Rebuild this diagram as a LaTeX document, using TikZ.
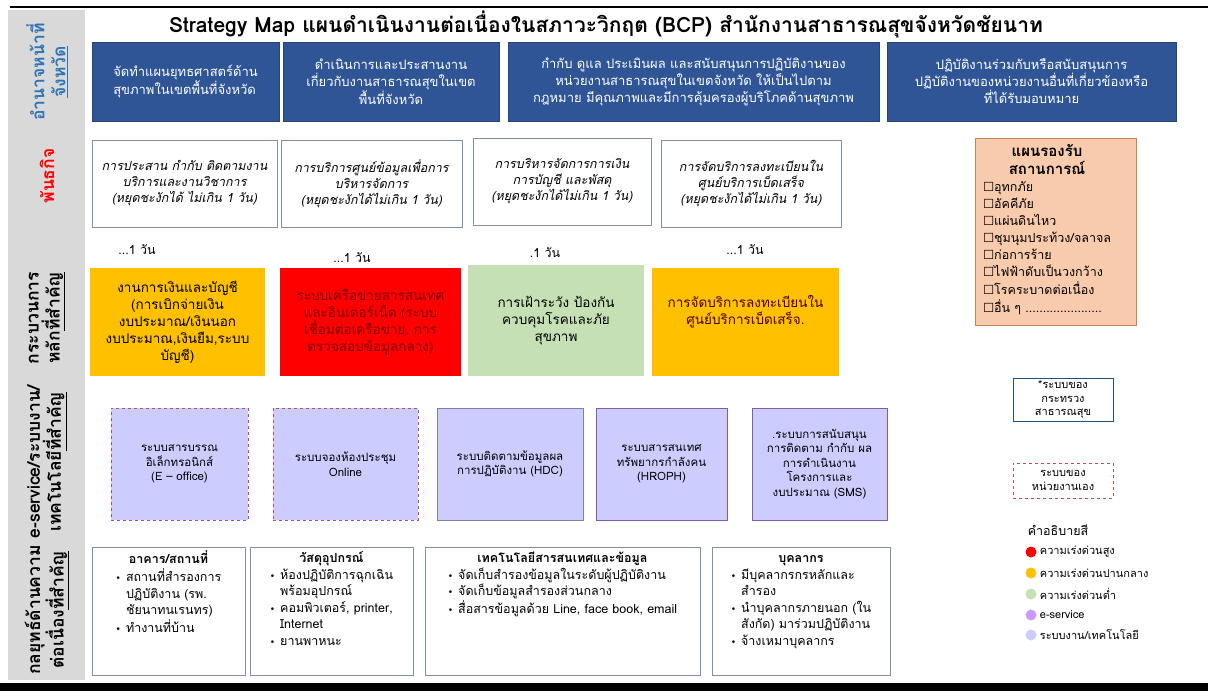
\documentclass[tikz,border=0pt]{standalone}
\usepackage{fontspec}
\setmainfont[Script=Thai]{Loma}
\newfontfamily\symf{DejaVu Sans}
\usetikzlibrary{positioning}
\definecolor{dutyblue}{HTML}{2F5597}
\definecolor{framegrey}{HTML}{7F8FA6}
\definecolor{bandgrey}{HTML}{D9D9D9}
\definecolor{lblblue}{HTML}{2E75B6}
\definecolor{urgred}{HTML}{FF0000}
\definecolor{urgorange}{HTML}{FFC000}
\definecolor{urggreen}{HTML}{C5E0B4}
\definecolor{eserv}{HTML}{CC99FF}
\definecolor{sysfill}{HTML}{CCCCFF}
\definecolor{ownred}{HTML}{C0504D}
\definecolor{sysedge}{HTML}{7F7FA8}
\definecolor{purpedge}{HTML}{7F5F9F}
\definecolor{planfill}{HTML}{F8CBAD}
\definecolor{planedge}{HTML}{C9855A}
\tikzset{
  sidelbl/.style={rotate=90,align=center,inner sep=0,font=\bfseries\fontsize{17.5}{21}\selectfont},
  duty/.style={fill=dutyblue,draw=dutyblue!80!black,text=white,align=center,font=\fontsize{13}{17}\selectfont},
  mission/.style={draw=framegrey,fill=white,align=center,font=\itshape\fontsize{12.5}{16}\selectfont},
  daytxt/.style={inner sep=0,font=\fontsize{12.5}{14}\selectfont},
  proc/.style={align=center,font=\fontsize{13.5}{17}\selectfont},
  sysbox/.style={fill=sysfill,align=center,font=\fontsize{11.5}{14.5}\selectfont},
  ownsys/.style={sysbox,draw=ownred,dashed},
  moph/.style={sysbox,draw=#1,semithick},
  stratbox/.style={draw=framegrey,fill=white},
  strattxt/.style={anchor=north,inner sep=0,font=\fontsize{12.5}{16.5}\selectfont},
  legtxt/.style={inner sep=1pt,font=\fontsize{11}{13}\selectfont}
}
% box from corners: style, name, x1, y1, x2, y2, text
\newcommand{\boxat}[7]{\node[#1,minimum width={#5-#3},minimum height={#6-#4}] (#2) at ({(#3+#5)/2},{(#4+#6)/2}) {#7};}
\newcommand{\bul}{{\symf\small •}}
\newcommand{\chk}{{\symf ☐}}
\begin{document}
\begin{tikzpicture}[x=1pt,y=-1pt]
\useasboundingbox (0,0) rectangle (1208,691);
% frame and side band
\draw[line width=1.2] (10,7) -- (1208,7);
\fill[bandgrey] (8,10) rectangle (85,680);
\fill (0,683) rectangle (1208,691);
\node[sidelbl,text=lblblue] (lDuty) at (47,72) {อำนาจหน้าที่\\\underline{จังหวัด}};
\node[sidelbl,text=urgred] (lMiss) at (47,176) {พันธกิจ};
\node[sidelbl] (lProc) at (47,318) {กระบวนการ\\หลัก\underline{ที่สำคัญ}};
\node[sidelbl] (lSys) at (47,462) {e-service/ระบบงาน/\\เทคโนโลยี\underline{ที่สำคัญ}};
\node[sidelbl] (lStrat) at (47,610) {กลยุทธ์ด้านความ\\ต่อเนื่อง\underline{ที่สำคัญ}};
\node[font=\bfseries\fontsize{21}{24}\selectfont] (title) at (606,24) {Strategy Map แผนดำเนินงานต่อเนื่องในสภาวะวิกฤต (BCP) สำนักงานสาธารณสุขจังหวัดชัยนาท};
% duties
\boxat{duty,align=left}{dA}{92}{42}{279}{121}{จัดทำแผนยุทธศาสตร์ด้าน\\สุขภาพในเขตพื้นที่จังหวัด}
\boxat{duty}{dB}{283}{42}{499}{121}{ดำเนินการและประสานงาน\\เกี่ยวกับงานสาธารณสุขในเขต\\พื้นที่จังหวัด}
\boxat{duty}{dC}{508}{42}{879}{121}{กำกับ ดูแล ประเมินผล และสนับสนุนการปฏิบัติงานของ\\หน่วยงานสาธารณสุขในเขตจังหวัด ให้เป็นไปตาม\\กฎหมาย มีคุณภาพและมีการคุ้มครองผู้บริโภคด้านสุขภาพ}
\boxat{duty}{dD}{887}{42}{1176}{121}{ปฏิบัติงานร่วมกับหรือสนับสนุนการ\\ปฏิบัติงานของหน่วยงานอื่นที่เกี่ยวข้องหรือ\\ที่ได้รับมอบหมาย}
% missions
\boxat{mission}{m1}{92}{140}{277}{227}{การประสาน กำกับ ติดตามงาน\\บริการและงานวิชาการ\\(หยุดชะงักได้ ไม่เกิน 1 วัน)}
\boxat{mission}{m2}{281}{140}{462}{227}{การบริการศูนย์ข้อมูลเพื่อการ\\บริหารจัดการ\\(หยุดชะงักได้ไม่เกิน 1 วัน)}
\boxat{mission}{m3}{473}{138}{651}{225}{การบริหารจัดการการเงิน\\การบัญชี และพัสดุ\\(หยุดชะงักได้ไม่เกิน 1 วัน)}
\boxat{mission}{m4}{661}{140}{841}{227}{การจัดบริการลงทะเบียนใน\\ศูนย์บริการเบ็ดเสร็จ\\(หยุดชะงักได้ไม่เกิน 1 วัน)}
\node[daytxt] (day1) at (137,250) {...1 วัน};
\node[daytxt] (day2) at (352,258) {...1 วัน};
\node[daytxt] (day3) at (545,253) {.1 วัน};
\node[daytxt] (day4) at (745,250) {...1 วัน};
% key processes
\boxat{proc,fill=urgorange}{p1}{90}{268}{265}{376}{งานการเงินและบัญชี\\(การเบิกจ่ายเงิน\\งบประมาณ/เงินนอก\\งบประมาณ,เงินยืม,ระบบ\\บัญชี)}
\boxat{proc,fill=urgred,text=red!50!black}{p2}{280}{268}{461}{376}{ระบบเครือข่ายสารสนเทศ\\และอินเตอร์เน็ต (ระบบ\\เชื่อมต่อเครือข่าย, การ\\ตรวจสอบข้อมูลกลาง)}
\boxat{proc,fill=urggreen}{p3}{468}{265}{644}{376}{การเฝ้าระวัง ป้องกัน\\ควบคุมโรคและภัย\\สุขภาพ}
\boxat{proc,fill=urgorange,text=red!30!black}{p4}{652}{268}{839}{376}{การจัดบริการลงทะเบียนใน\\ศูนย์บริการเบ็ดเสร็จ.\\[8pt]\mbox{}}
% systems
\boxat{ownsys}{s1}{111}{408}{248}{520}{ระบบสารบรรณ\\อิเล็กทรอนิกส์\\(E – office)}
\boxat{ownsys}{s2}{273}{408}{418}{520}{ระบบจองห้องประชุม\\Online}
\boxat{moph=sysedge}{s3}{437}{408}{583}{520}{ระบบติดตามข้อมูลผล\\การปฏิบัติงาน (HDC)}
\boxat{moph=purpedge}{s4}{596}{408}{727}{520}{ระบบสารสนเทศ\\ทรัพยากรกำลังคน\\(HROPH)}
\boxat{moph=purpedge}{s5}{752}{408}{887}{520}{.ระบบการสนับสนุน\\การติดตาม กำกับ ผล\\การดำเนินงาน\\โครงการและ\\งบประมาณ (SMS)}
% continuity strategies
\boxat{stratbox}{r1}{92}{547}{245}{675}{}
\boxat{stratbox}{r2}{250}{547}{413}{675}{}
\boxat{stratbox}{r3}{425}{547}{700}{675}{}
\boxat{stratbox}{r4}{712}{547}{890}{675}{}
\node[strattxt] (r1t) at ([yshift=-4]r1.north) {\begin{tabular}{@{}l@{\hspace{5pt}}l@{}}\multicolumn{2}{@{}c@{}}{\bfseries อาคาร/สถานที่}\\ \bul & สถานที่สำรองการ\\ & ปฏิบัติงาน (รพ.\\ & ชัยนาทนเรนทร)\\ \bul & ทำงานที่บ้าน\end{tabular}};
\node[strattxt] (r2t) at ([yshift=-4]r2.north) {\begin{tabular}{@{}l@{\hspace{5pt}}l@{}}\multicolumn{2}{@{}c@{}}{\bfseries วัสดุอุปกรณ์}\\ \bul & ห้องปฏิบัติการฉุกเฉิน\\ & พร้อมอุปกรณ์\\ \bul & คอมพิวเตอร์, printer,\\ & Internet\\ \bul & ยานพาหนะ\end{tabular}};
\node[strattxt] (r3t) at ([yshift=-4]r3.north) {\begin{tabular}{@{}l@{\hspace{5pt}}l@{}}\multicolumn{2}{@{}c@{}}{\bfseries เทคโนโลยีสารสนเทศและข้อมูล}\\ \bul & จัดเก็บสำรองข้อมูลในระดับผู้ปฏิบัติงาน\\ \bul & จัดเก็บข้อมูลสำรองส่วนกลาง\\ \bul & สื่อสารข้อมูลด้วย Line, face book, email\end{tabular}};
\node[strattxt] (r4t) at ([yshift=-4]r4.north) {\begin{tabular}{@{}l@{\hspace{5pt}}l@{}}\multicolumn{2}{@{}c@{}}{\bfseries บุคลากร}\\ \bul & มีบุคลากรกรหลักและ\\ & สำรอง\\ \bul & นำบุคลากรภายนอก (ใน\\ & สังกัด) มาร่วมปฏิบัติงาน\\ \bul & จ้างเหมาบุคลากร\end{tabular}};
% situations and legend
\boxat{fill=planfill,draw=planedge}{plan}{975}{138}{1136}{325}{}
\node[strattxt,anchor=north west,font=\fontsize{12.5}{17}\selectfont] (planT) at ([xshift=8,yshift=-6]plan.north west) {\begin{tabular}{@{}l@{}}\multicolumn{1}{@{}c@{}}{\bfseries\fontsize{15}{18}\selectfont แผนรองรับ}\\ \multicolumn{1}{@{}c@{}}{\bfseries\fontsize{15}{18}\selectfont สถานการณ์}\\ \chk อุทกภัย\\ \chk อัคคีภัย\\ \chk แผ่นดินไหว\\ \chk ชุมนุมประท้วง/จลาจล\\ \chk ก่อการร้าย\\ \chk ไฟฟ้าดับเป็นวงกว้าง\\ \chk โรคระบาดต่อเนื่อง\\ \chk อื่น ๆ ......................\end{tabular}};
\boxat{draw=lblblue!70!black,align=center,inner sep=1pt,font=\fontsize{11}{13.5}\selectfont}{mophKey}{1013}{378}{1113}{421}{*ระบบของ\\กระทรวง\\สาธารณสุข}
\boxat{draw=ownred,dashed,align=center,font=\fontsize{11}{13.5}\selectfont}{ownKey}{1013}{463}{1113}{498}{ระบบของ\\หน่วยงานเอง}
\node[font=\fontsize{12.5}{14}\selectfont] (colKey) at (1058,530) {คำอธิบายสี};
\foreach \y/\c/\t [count=\i] in {552/urgred/ความเร่งด่วนสูง,573/urgorange/ความเร่งด่วนปานกลาง,594/urggreen/ความเร่งด่วนต่ำ,615/eserv/e-service,635/sysfill/{ระบบงาน/เทคโนโลยี}}{
  \node[circle,fill=\c,minimum size=11,inner sep=0] (dot\i) at (1031,\y) {};
  \node[legtxt,right=2pt of dot\i] (leg\i) {\t};
}
\end{tikzpicture}
\end{document}
